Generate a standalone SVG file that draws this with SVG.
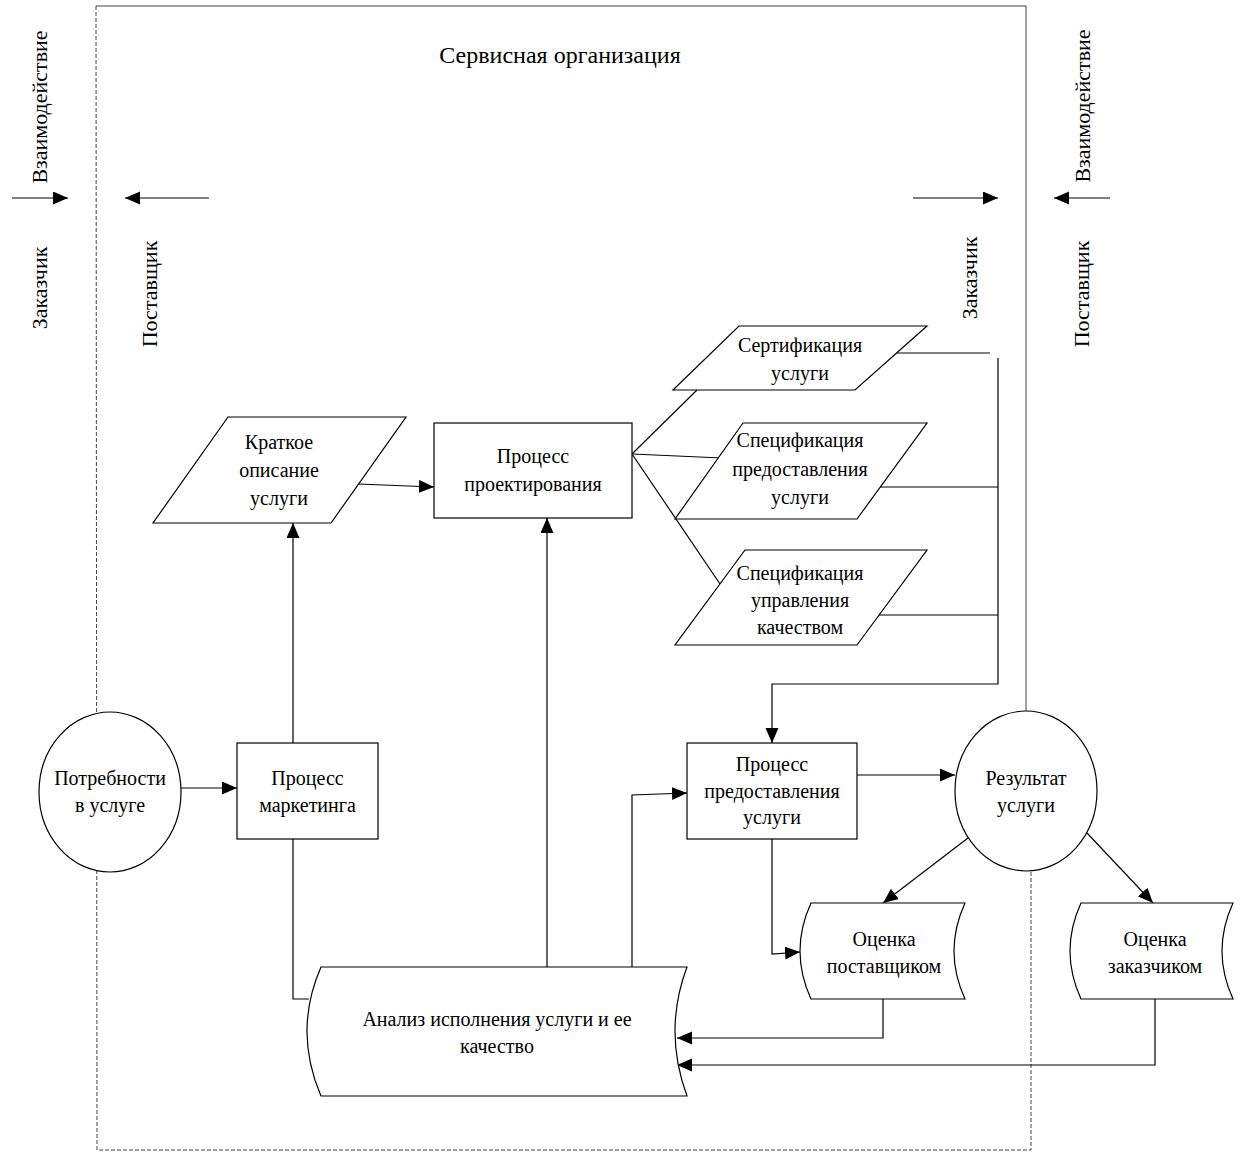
<svg xmlns="http://www.w3.org/2000/svg" width="1242" height="1160" viewBox="0 0 1242 1160">
<defs>
<marker id="ah" markerUnits="userSpaceOnUse" markerWidth="16" markerHeight="14" refX="15" refY="6.5" orient="auto">
<path d="M0,0 L15,6.5 L0,13 Z" fill="#000"/>
</marker>
<style>
.t{font-family:"Liberation Serif","Times New Roman",serif;font-size:20px;fill:#000;text-anchor:middle}
.title{font-size:24px}
.v{font-size:22px}
.n{fill:#fff;stroke:#000;stroke-width:1.2}
.c{fill:none;stroke:#000;stroke-width:1.2}
.a{marker-end:url(#ah)}
.bd{fill:none;stroke:#444;stroke-width:1}
.dash{stroke-dasharray:4 2}
</style>
</defs>
<rect width="1242" height="1160" fill="#fff"/>
<g id="boundary">
<line class="bd" x1="96" y1="6" x2="1026" y2="6"/>
<line class="bd" x1="1026" y1="6" x2="1026" y2="712"/>
<path class="bd dash" d="M96,6 L97,1150 L1031,1150 L1031,872"/>
<text class="t title" x="560" y="63">Сервисная организация</text>
</g>
<g id="side-labels">
<text class="t v" transform="translate(47,107) rotate(-90)">Взаимодействие</text>
<text class="t v" transform="translate(47,288) rotate(-90)">Заказчик</text>
<text class="t v" transform="translate(157,294) rotate(-90)">Поставщик</text>
<text class="t v" transform="translate(1090,106) rotate(-90)">Взаимодействие</text>
<text class="t v" transform="translate(977,278) rotate(-90)">Заказчик</text>
<text class="t v" transform="translate(1089,294) rotate(-90)">Поставщик</text>
</g>
<g id="connectors">
<line class="c a" x1="12" y1="198" x2="68" y2="198"/>
<line class="c a" x1="209" y1="198" x2="125" y2="198"/>
<line class="c a" x1="913" y1="198" x2="998" y2="198"/>
<line class="c a" x1="1110" y1="198" x2="1054" y2="198"/>
<line class="c a" x1="181" y1="788" x2="237" y2="788"/>
<line class="c a" x1="293" y1="743" x2="293" y2="523"/>
<polyline class="c" points="293,839 293,999 309,999"/>
<line class="c a" x1="358" y1="484" x2="434" y2="487"/>
<line class="c a" x1="547" y1="967" x2="547" y2="518"/>
<line class="c" x1="632" y1="454" x2="697" y2="390"/>
<line class="c" x1="632" y1="454" x2="722" y2="458"/>
<line class="c" x1="632" y1="454" x2="720" y2="584"/>
<line class="c" x1="895" y1="353" x2="990" y2="353"/>
<line class="c" x1="878" y1="487" x2="998" y2="487"/>
<line class="c" x1="877" y1="615" x2="998" y2="615"/>
<polyline class="c a" points="998,358 998,684 772,684 772,743"/>
<polyline class="c a" points="632,967 632,795 687,793"/>
<line class="c a" x1="857" y1="775" x2="955" y2="775"/>
<polyline class="c a" points="772,839 772,954 800,952"/>
<line class="c a" x1="968" y1="838" x2="883" y2="903"/>
<line class="c a" x1="1087" y1="833" x2="1153" y2="903"/>
<polyline class="c a" points="883,999 883,1038 677,1038"/>
<polyline class="c a" points="1155,999 1155,1065 677,1065"/>
</g>
<g id="needs">
<ellipse class="n" cx="110" cy="792" rx="71" ry="80"/>
<text class="t" x="110" y="785">Потребности</text>
<text class="t" x="110" y="812">в услуге</text>
</g>
<g id="marketing">
<rect class="n" x="237" y="743" width="141" height="96"/>
<text class="t" x="307.5" y="785">Процесс</text>
<text class="t" x="307.5" y="812">маркетинга</text>
</g>
<g id="brief">
<polygon class="n" points="228,417 406,417 331,523 153,523"/>
<text class="t" x="279" y="449">Краткое</text>
<text class="t" x="279" y="477">описание</text>
<text class="t" x="279" y="505">услуги</text>
</g>
<g id="design">
<rect class="n" x="434" y="423" width="198" height="95"/>
<text class="t" x="533" y="463">Процесс</text>
<text class="t" x="533" y="491">проектирования</text>
</g>
<g id="certification">
<polygon class="n" points="739,326 927,326 855,390 673,390"/>
<text class="t" x="800" y="352">Сертификация</text>
<text class="t" x="800" y="380">услуги</text>
</g>
<g id="spec-delivery">
<polygon class="n" points="743,423 927,423 857,519 675,519"/>
<text class="t" x="800" y="447">Спецификация</text>
<text class="t" x="800" y="476">предоставления</text>
<text class="t" x="800" y="504">услуги</text>
</g>
<g id="spec-quality">
<polygon class="n" points="745,550 927,550 857,645 675,645"/>
<text class="t" x="800" y="580">Спецификация</text>
<text class="t" x="800" y="607">управления</text>
<text class="t" x="800" y="634">качеством</text>
</g>
<g id="delivery">
<rect class="n" x="687" y="743" width="170" height="96"/>
<text class="t" x="772" y="771">Процесс</text>
<text class="t" x="772" y="798">предоставления</text>
<text class="t" x="772" y="824">услуги</text>
</g>
<g id="result">
<ellipse class="n" cx="1026" cy="791" rx="71" ry="80"/>
<text class="t" x="1026" y="785">Результат</text>
<text class="t" x="1026" y="812">услуги</text>
</g>
<g id="supplier-eval">
<path class="n" d="M811,903 L965,903 Q943,951 965,999 L811,999 Q789,951 811,903 Z"/>
<text class="t" x="884" y="946">Оценка</text>
<text class="t" x="884" y="973">поставщиком</text>
</g>
<g id="customer-eval">
<path class="n" d="M1081,903 L1233,903 Q1211,951 1233,999 L1081,999 Q1059,951 1081,903 Z"/>
<text class="t" x="1155" y="946">Оценка</text>
<text class="t" x="1155" y="973">заказчиком</text>
</g>
<g id="analysis">
<path class="n" d="M321,967 L687,967 Q663,1031 687,1096 L321,1096 Q293,1031 321,967 Z"/>
<text class="t" x="497" y="1026">Анализ исполнения услуги и ее</text>
<text class="t" x="497" y="1053">качество</text>
</g>
</svg>
